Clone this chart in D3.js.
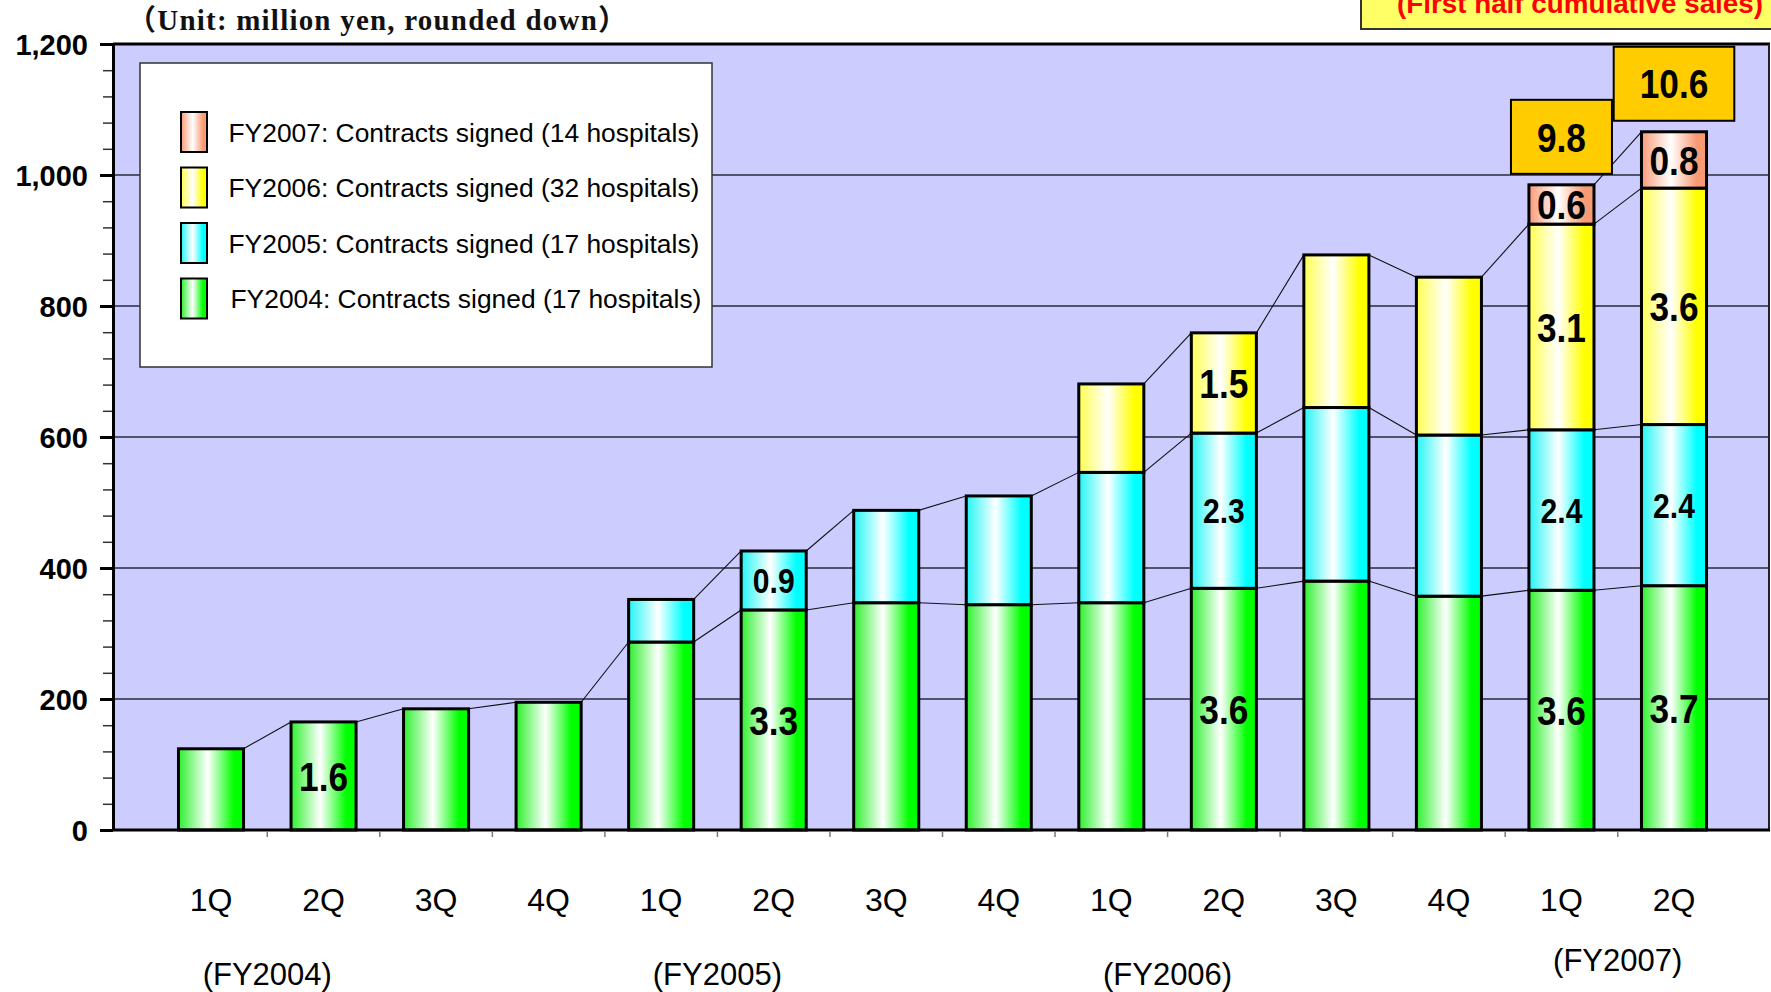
<!DOCTYPE html>
<html>
<head>
<meta charset="utf-8">
<script src="https://cdn.jsdelivr.net/npm/d3@7"></script>
<style>
  html, body { margin: 0; padding: 0; background: #ffffff; }
  svg { display: block; }
</style>
</head>
<body>
<svg id="chart" width="1771" height="992"></svg>
<script>
// ---- Data (million yen) ----
const periods = [
  "FY2004 1Q", "FY2004 2Q", "FY2004 3Q", "FY2004 4Q",
  "FY2005 1Q", "FY2005 2Q", "FY2005 3Q", "FY2005 4Q",
  "FY2006 1Q", "FY2006 2Q", "FY2006 3Q", "FY2006 4Q",
  "FY2007 1Q", "FY2007 2Q"
];
const fiscalYears = ["FY2004", "FY2005", "FY2006", "FY2007"];
const seriesKeys = ["FY2004", "FY2005", "FY2006", "FY2007"];

// Sales by the fiscal year in which the hospital contract was signed
const salesFY2004 = [124, 165, 185, 195, 287, 336, 347, 344, 347, 369, 380, 357, 366, 373];
const salesFY2005 = [null, null, null, null, 65, 90, 141, 166, 199, 237, 265, 246, 245, 246];
const salesFY2006 = [null, null, null, null, null, null, null, null, 135, 153, 233, 241, 314, 361];
const salesFY2007 = [null, null, null, null, null, null, null, null, null, null, null, null, 60, 86];

const legendLabels = [
  "FY2004: Contracts signed (17 hospitals)",
  "FY2005: Contracts signed (17 hospitals)",
  "FY2006: Contracts signed (32 hospitals)",
  "FY2007: Contracts signed (14 hospitals)"
];
const yTicks = [0, 200, 400, 600, 800, 1000, 1200];
const yMinorStep = 40;

// Quarters whose segments carry value labels, and quarters with a total box
const labeledPeriods = ["FY2004 2Q", "FY2005 2Q", "FY2006 2Q", "FY2007 1Q", "FY2007 2Q"];
const totalLabeledPeriods = ["FY2007 1Q", "FY2007 2Q"];

const unitNote = "（Unit: million yen, rounded down）";
const cumulativeNote = "(First half cumulative sales)";

// ---- Styles ----
const seriesStyle = {
  FY2004: { edge: "#2CF02C", color: "#00FF00", labelSize: 41 },
  FY2005: { edge: "#22F5F5", color: "#00FFFF", labelSize: 35 },
  FY2006: { edge: "#FFFF50", color: "#FFFF00", labelSize: 41 },
  FY2007: { edge: "#F99A78", color: "#FA9A74", labelSize: 41 }
};
const sans = "'Liberation Sans', Arial, sans-serif";
const plot = { left: 113, right: 1769, top: 44, bottom: 830 };

// Labels are in hundred-million yen, rounded down
const toOku = v => (Math.floor(v / 10) / 10).toFixed(1);

// ---- Setup ----
const svg = d3.select("#chart");
const defs = svg.append("defs");

seriesKeys.forEach(k => {
  const s = seriesStyle[k];
  const g = defs.append("linearGradient").attr("id", "grad-" + k)
    .attr("x1", "0%").attr("x2", "100%").attr("y1", "0%").attr("y2", "0%");
  g.append("stop").attr("offset", "0%").attr("stop-color", s.edge);
  g.append("stop").attr("offset", "45%").attr("stop-color", "#FFFFFF");
  g.append("stop").attr("offset", "85%").attr("stop-color", s.color);
  g.append("stop").attr("offset", "100%").attr("stop-color", s.color);
});

const seriesValues = { FY2004: salesFY2004, FY2005: salesFY2005, FY2006: salesFY2006, FY2007: salesFY2007 };
const rows = periods.map((p, i) => {
  const r = { period: p };
  seriesKeys.forEach(k => { r[k] = seriesValues[k][i]; });
  return r;
});
const stacked = d3.stack().keys(seriesKeys).value((d, k) => d[k] == null ? 0 : d[k])(rows);

const x = d3.scaleBand().domain(periods)
  .range([plot.left + 1.5, plot.right + 1.5])
  .paddingInner(0.422).paddingOuter(0.5685);
const y = d3.scaleLinear().domain([0, 1200]).range([plot.bottom, plot.top]);
const bw = x.bandwidth();

// Plot background
svg.append("rect")
  .attr("x", plot.left).attr("y", plot.top)
  .attr("width", plot.right - plot.left).attr("height", plot.bottom - plot.top)
  .attr("fill", "#CCCCFF");

// Gridlines
svg.append("g").selectAll("line")
  .data(yTicks.filter(v => v > 0 && v < 1200))
  .join("line")
  .attr("x1", plot.left).attr("x2", plot.right)
  .attr("y1", d => y(d)).attr("y2", d => y(d))
  .attr("stroke", "#2a2a3a").attr("stroke-width", 1.4);

// Series lines joining the top of each series between neighbouring bars
const seriesLines = svg.append("g");
stacked.forEach(layer => {
  const k = layer.key;
  for (let i = 0; i < layer.length - 1; i++) {
    if (rows[i][k] == null || rows[i + 1][k] == null) continue;
    seriesLines.append("line")
      .attr("x1", x(periods[i]) + bw).attr("y1", y(layer[i][1]))
      .attr("x2", x(periods[i + 1])).attr("y2", y(layer[i + 1][1]))
      .attr("stroke", "#111").attr("stroke-width", 1.1);
  }
});

// Stacked bars
const bars = svg.append("g");
stacked.forEach(layer => {
  const k = layer.key;
  bars.append("g").selectAll("rect")
    .data(layer.filter(d => d.data[k] != null))
    .join("rect")
    .attr("x", d => x(d.data.period))
    .attr("y", d => y(d[1]))
    .attr("width", bw)
    .attr("height", d => y(d[0]) - y(d[1]))
    .attr("fill", "url(#grad-" + k + ")")
    .attr("stroke", "#000").attr("stroke-width", 3);
});

// Segment value labels
const segLabels = svg.append("g").attr("font-family", sans).attr("font-weight", "bold").attr("fill", "#000");
stacked.forEach(layer => {
  const k = layer.key;
  const fs = seriesStyle[k].labelSize;
  layer.filter(d => d.data[k] != null && labeledPeriods.includes(d.data.period)).forEach(d => {
    const cx = x(d.data.period) + bw / 2;
    const cy = (y(d[0]) + y(d[1])) / 2 + fs * 0.358;
    segLabels.append("text")
      .attr("transform", `translate(${cx},${cy}) scale(0.86,1)`)
      .attr("text-anchor", "middle")
      .attr("font-size", fs)
      .text(toOku(d.data[k]));
  });
});

// Plot frame
const frame = svg.append("g");
frame.append("line").attr("x1", plot.left).attr("x2", plot.right + 1)
  .attr("y1", plot.top).attr("y2", plot.top).attr("stroke", "#000").attr("stroke-width", 3);
frame.append("line").attr("x1", plot.right).attr("x2", plot.right)
  .attr("y1", plot.top).attr("y2", plot.bottom).attr("stroke", "#222").attr("stroke-width", 2);
frame.append("line").attr("x1", plot.left).attr("x2", plot.right + 1)
  .attr("y1", plot.bottom).attr("y2", plot.bottom).attr("stroke", "#000").attr("stroke-width", 3);

// Y axis: minor ticks, then major ticks with labels
const yMinor = svg.append("g").attr("transform", `translate(${plot.left},0)`)
  .call(d3.axisLeft(y)
    .tickValues(d3.range(yMinorStep, 1200, yMinorStep).filter(v => v % 200 !== 0))
    .tickSize(10).tickSizeOuter(0).tickFormat(""));
yMinor.select(".domain").remove();
yMinor.selectAll(".tick line").attr("stroke", "#333").attr("stroke-width", 1.5);

const yAxis = svg.append("g").attr("transform", `translate(${plot.left},0)`)
  .call(d3.axisLeft(y).tickValues(yTicks).tickSize(13).tickSizeOuter(0)
    .tickPadding(12).tickFormat(d3.format(",")));
yAxis.select(".domain").attr("stroke", "#000").attr("stroke-width", 3);
yAxis.selectAll(".tick line").attr("stroke", "#000").attr("stroke-width", 3);
yAxis.selectAll(".tick text")
  .attr("font-family", sans).attr("font-weight", "bold").attr("font-size", 29).attr("fill", "#000")
  .attr("dy", "0.36em");

// X axis: quarter labels under bars, small ticks between bars
const xAxis = svg.append("g").attr("transform", `translate(0,${plot.bottom})`)
  .call(d3.axisBottom(x).tickSize(0).tickPadding(58).tickFormat(p => p.split(" ")[1]));
xAxis.select(".domain").remove();
xAxis.selectAll(".tick text")
  .attr("font-family", sans).attr("font-size", 32).attr("fill", "#000");

svg.append("g").selectAll("line")
  .data(periods.slice(0, -1))
  .join("line")
  .attr("x1", p => x(p) + bw + (x.step() - bw) / 2)
  .attr("x2", p => x(p) + bw + (x.step() - bw) / 2)
  .attr("y1", plot.bottom + 1.5).attr("y2", plot.bottom + 7)
  .attr("stroke", "#7a7a7a").attr("stroke-width", 1.5);

// Fiscal-year captions, centred between each year's 1Q and 2Q bars
svg.append("g").selectAll("text")
  .data(fiscalYears)
  .join("text")
  .attr("x", fy => (x(fy + " 1Q") + x(fy + " 2Q")) / 2 + bw / 2)
  .attr("y", (fy, i) => i === fiscalYears.length - 1 ? 971 : 985)
  .attr("text-anchor", "middle")
  .attr("font-family", sans).attr("font-size", 31).attr("fill", "#000")
  .text(fy => "(" + fy + ")");

// Cumulative total boxes above selected bars
const totals = svg.append("g");
totalLabeledPeriods.forEach(p => {
  const i = periods.indexOf(p);
  const total = d3.sum(seriesKeys, k => rows[i][k] || 0);
  const cx = x(p) + bw / 2;
  const cy = y(total) - 48;
  const g = totals.append("g");
  const rect = g.append("rect");
  const t = g.append("text")
    .attr("transform", `translate(${cx},${cy + 41 * 0.358}) scale(0.86,1)`)
    .attr("text-anchor", "middle")
    .attr("font-family", sans).attr("font-weight", "bold").attr("font-size", 41).attr("fill", "#000")
    .text(toOku(total));
  const w = t.node().getComputedTextLength() * 0.86 + 52;
  rect.attr("x", cx - w / 2).attr("y", cy - 37).attr("width", w).attr("height", 74)
    .attr("fill", "#FFCC00").attr("stroke", "#000").attr("stroke-width", 2);
});

// Legend (latest contract year on top)
const legend = svg.append("g");
legend.append("rect")
  .attr("x", 140).attr("y", 63).attr("width", 572).attr("height", 304)
  .attr("fill", "#FFFFFF").attr("stroke", "#333").attr("stroke-width", 1.5);
const legendOrder = seriesKeys.map((k, i) => ({ key: k, label: legendLabels[i] })).reverse();
legendOrder.forEach((d, i) => {
  legend.append("rect")
    .attr("x", 181).attr("y", 112 + i * 55.5).attr("width", 26).attr("height", 40)
    .attr("fill", "url(#grad-" + d.key + ")").attr("stroke", "#000").attr("stroke-width", 2);
  legend.append("text")
    .attr("x", d.key === "FY2004" ? 230.5 : 228.5).attr("y", 141.7 + i * 55.5)
    .attr("font-family", sans).attr("font-size", 26.4).attr("fill", "#000")
    .text(d.label);
});

// Unit note above the value axis
svg.append("text")
  .attr("x", 127).attr("y", 30)
  .attr("font-family", "'Liberation Serif', 'Times New Roman', 'Noto Sans CJK JP', serif")
  .attr("font-weight", "bold").attr("font-size", 29).attr("fill", "#111")
  .attr("textLength", 500).attr("lengthAdjust", "spacing")
  .text(unitNote);

// Heading box at top right
svg.append("rect")
  .attr("x", 1361).attr("y", -12).attr("width", 430).attr("height", 41)
  .attr("fill", "#FFFF66").attr("stroke", "#333").attr("stroke-width", 2);
svg.append("text")
  .attr("x", 1397).attr("y", 13)
  .attr("font-family", sans).attr("font-weight", "bold").attr("font-size", 27).attr("fill", "#FF0000")
  .attr("textLength", 366).attr("lengthAdjust", "spacingAndGlyphs")
  .text(cumulativeNote);
</script>
</body>
</html>
